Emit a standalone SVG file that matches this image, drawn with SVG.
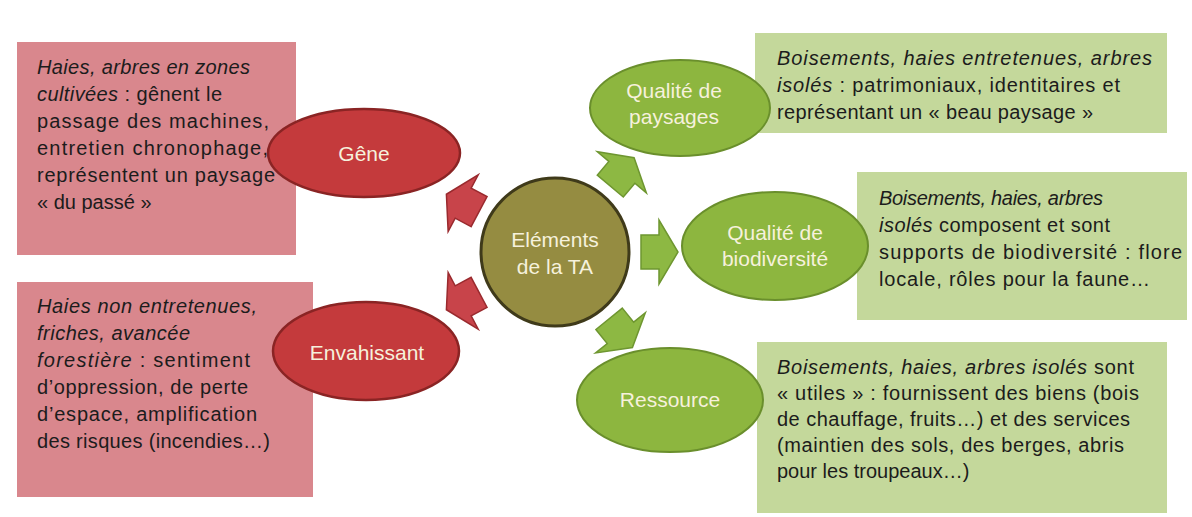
<svg xmlns="http://www.w3.org/2000/svg" width="1192" height="517" viewBox="0 0 1192 517">
<style>
.bg{fill:#ffffff}
.pbox{fill:#d9878d}
.gbox{fill:#c4d89b}
.body{font-family:"Liberation Sans",Arial,sans-serif;font-size:20px;fill:#1c1c1c}
.it{font-style:italic}
.red{fill:#c43a3c;stroke:#8a2424;stroke-width:2.5}
.grn{fill:#8db63f;stroke:#6a8f2c;stroke-width:2}
.ctr{fill:#958c41;stroke:#3f3a1a;stroke-width:3}
.lbl{font-family:"Liberation Sans",Arial,sans-serif;font-size:21px;fill:#f6f1dc;text-anchor:middle}
.ra{fill:#c8444a;stroke:#9a2a2e;stroke-width:1.5}
.ga{fill:#8db843;stroke:#6e9630;stroke-width:1.5}
</style>
<defs>
<path id="arr" d="M86,-17 L104,-17 L104,-32 L123,0 L104,32 L104,17 L86,17 Z"/>
</defs>
<rect class="bg" x="0" y="0" width="1192" height="517"/>

<g id="connectors">
<use href="#arr" class="ra" transform="translate(555,252) rotate(-152)"/>
<use href="#arr" class="ra" transform="translate(555,252) rotate(152)"/>
<use href="#arr" class="ga" transform="translate(555,252) rotate(-50)"/>
<use href="#arr" class="ga" transform="translate(555,252) rotate(0)"/>
<use href="#arr" class="ga" transform="translate(555,252) rotate(51)"/>
</g>

<g id="box-gene">
<rect class="pbox" x="17" y="42" width="279" height="213"/>
<text class="body" x="37" y="74" textLength="213" lengthAdjust="spacing"><tspan class="it">Haies, arbres en zones</tspan></text>
<text class="body" x="37" y="101" textLength="185" lengthAdjust="spacing"><tspan class="it">cultivées</tspan> : gênent le</text>
<text class="body" x="37" y="128" textLength="232" lengthAdjust="spacing">passage des machines,</text>
<text class="body" x="37" y="155" textLength="231" lengthAdjust="spacing">entretien chronophage,</text>
<text class="body" x="37" y="182" textLength="238" lengthAdjust="spacing">représentent un paysage</text>
<text class="body" x="37" y="209">« du passé »</text>
</g>

<g id="box-envahissant">
<rect class="pbox" x="17" y="282" width="296" height="215"/>
<text class="body" x="37" y="313" textLength="220" lengthAdjust="spacing"><tspan class="it">Haies non entretenues,</tspan></text>
<text class="body" x="37" y="340" textLength="153" lengthAdjust="spacing"><tspan class="it">friches, avancée</tspan></text>
<text class="body" x="37" y="367" textLength="213" lengthAdjust="spacing"><tspan class="it">forestière</tspan> : sentiment</text>
<text class="body" x="37" y="394" textLength="211" lengthAdjust="spacing">d’oppression, de perte</text>
<text class="body" x="37" y="421" textLength="220" lengthAdjust="spacing">d’espace, amplification</text>
<text class="body" x="37" y="448" textLength="233" lengthAdjust="spacing">des risques (incendies…)</text>
</g>

<g id="box-paysages">
<rect class="gbox" x="755" y="33" width="412" height="100"/>
<text class="body" x="777" y="65" textLength="375" lengthAdjust="spacing"><tspan class="it">Boisements, haies entretenues, arbres</tspan></text>
<text class="body" x="777" y="92" textLength="343" lengthAdjust="spacing"><tspan class="it">isolés</tspan> : patrimoniaux, identitaires et</text>
<text class="body" x="777" y="119" textLength="316" lengthAdjust="spacing">représentant un « beau paysage »</text>
</g>

<g id="box-biodiversite">
<rect class="gbox" x="857" y="172" width="330" height="148"/>
<text class="body" x="879" y="205" textLength="224" lengthAdjust="spacing"><tspan class="it">Boisements, haies, arbres</tspan></text>
<text class="body" x="879" y="232" textLength="231" lengthAdjust="spacing"><tspan class="it">isolés</tspan>  composent et sont</text>
<text class="body" x="879" y="259" textLength="303" lengthAdjust="spacing">supports de biodiversité : flore</text>
<text class="body" x="879" y="286" textLength="271" lengthAdjust="spacing">locale, rôles pour la faune…</text>
</g>

<g id="box-ressource">
<rect class="gbox" x="757" y="342" width="410" height="171"/>
<text class="body" x="777" y="374" textLength="357" lengthAdjust="spacing"><tspan class="it">Boisements, haies, arbres isolés</tspan> sont</text>
<text class="body" x="777" y="400" textLength="362" lengthAdjust="spacing">« utiles » : fournissent des biens (bois</text>
<text class="body" x="777" y="426" textLength="353" lengthAdjust="spacing">de chauffage, fruits…) et des services</text>
<text class="body" x="777" y="452" textLength="347" lengthAdjust="spacing">(maintien des sols, des berges, abris</text>
<text class="body" x="777" y="478">pour les troupeaux…)</text>
</g>

<g id="node-gene">
<ellipse class="red" cx="364" cy="153" rx="96" ry="44"/>
<text class="lbl" x="364" y="161">Gêne</text>
</g>

<g id="node-envahissant">
<ellipse class="red" cx="366" cy="351" rx="93" ry="49"/>
<text class="lbl" x="367" y="360">Envahissant</text>
</g>

<g id="node-center">
<circle class="ctr" cx="555" cy="252" r="74"/>
<text class="lbl" x="555" y="247">Eléments</text>
<text class="lbl" x="555" y="274">de la TA</text>
</g>

<g id="node-paysages">
<ellipse class="grn" cx="680" cy="108" rx="90" ry="48"/>
<text class="lbl" x="674" y="98">Qualité de</text>
<text class="lbl" x="674" y="124">paysages</text>
</g>

<g id="node-biodiversite">
<ellipse class="grn" cx="775" cy="246" rx="93" ry="54"/>
<text class="lbl" x="775" y="240">Qualité de</text>
<text class="lbl" x="775" y="266">biodiversité</text>
</g>

<g id="node-ressource">
<ellipse class="grn" cx="670" cy="400" rx="93" ry="52"/>
<text class="lbl" x="670" y="407">Ressource</text>
</g>
</svg>
